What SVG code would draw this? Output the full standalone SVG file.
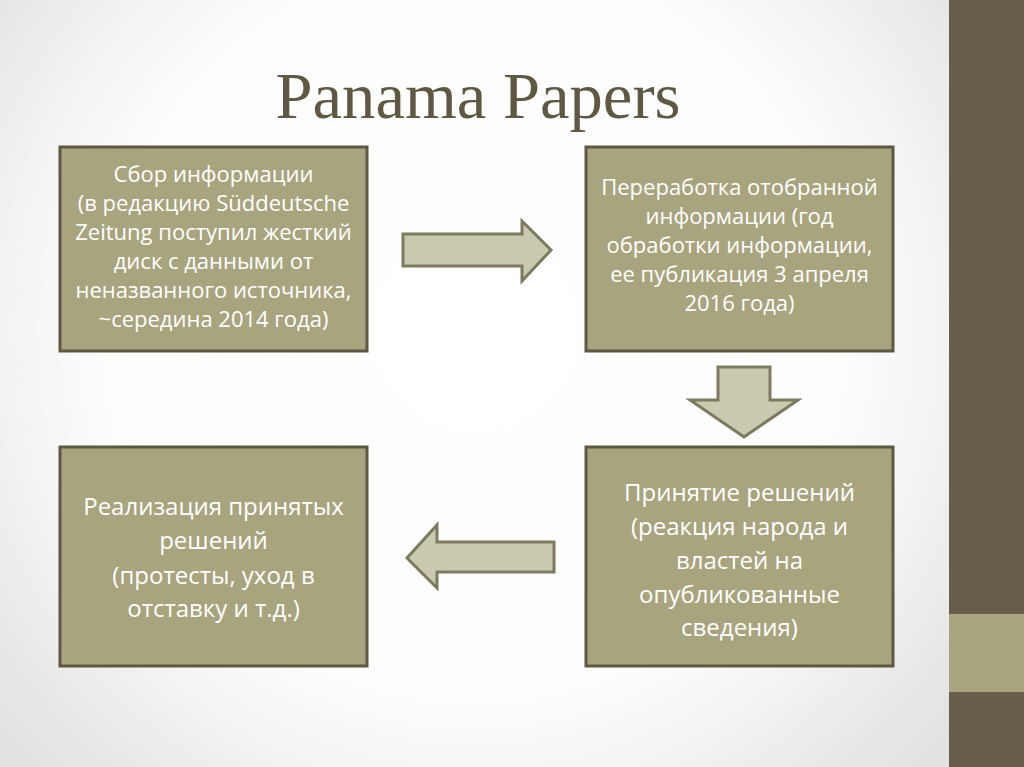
<svg xmlns="http://www.w3.org/2000/svg" width="1024" height="767" viewBox="0 0 1024 767">
<defs>
<radialGradient id="bg" cx="475" cy="330" r="620" gradientUnits="userSpaceOnUse">
<stop offset="0" stop-color="#ffffff"/>
<stop offset="0.6" stop-color="#fdfdfd"/>
<stop offset="1" stop-color="#e2e2e2"/>
</radialGradient>
<style>
.box{fill:#a8a47e;stroke:#5c5842;stroke-width:3}
.arr{fill:#cbc9ae;stroke:#7d7a5f;stroke-width:3;stroke-linejoin:miter}
.t{font-family:"Open Sans","Liberation Sans",sans-serif;fill:#ffffff;text-anchor:middle}
.s{font-size:22px}
.l{font-size:24px}
</style>
</defs>
<rect x="0" y="0" width="1024" height="767" fill="url(#bg)"/>
<rect x="949" y="0" width="75" height="767" fill="#665e48"/>
<rect x="949" y="614" width="75" height="78" fill="#a8a57e"/>
<text x="478" y="118" font-family="'Liberation Serif',serif" font-size="66" fill="#5f5843" text-anchor="middle" textLength="405" lengthAdjust="spacingAndGlyphs">Panama Papers</text>
<g id="node1">
<rect class="box" x="60" y="147" width="307" height="204"/>
<text class="t s"><tspan x="213.5" y="182">Сбор информации</tspan><tspan x="213.5" y="211">(в редакцию Süddeutsche</tspan><tspan x="213.5" y="240">Zeitung поступил жесткий</tspan><tspan x="213.5" y="269">диск с данными от</tspan><tspan x="213.5" y="298">неназванного источника,</tspan><tspan x="213.5" y="327">~середина 2014 года)</tspan></text>
</g>
<g id="node2">
<rect class="box" x="586" y="147" width="307" height="204"/>
<text class="t s"><tspan x="739.5" y="195">Переработка отобранной</tspan><tspan x="739.5" y="224">информации (год</tspan><tspan x="739.5" y="253">обработки информации,</tspan><tspan x="739.5" y="282">ее публикация 3 апреля</tspan><tspan x="739.5" y="311">2016 года)</tspan></text>
</g>
<g id="node3">
<rect class="box" x="60" y="447" width="307" height="219"/>
<text class="t l"><tspan x="213.5" y="515">Реализация принятых</tspan><tspan x="213.5" y="549">решений</tspan><tspan x="213.5" y="584">(протесты, уход в</tspan><tspan x="213.5" y="617">отставку и т.д.)</tspan></text>
</g>
<g id="node4">
<rect class="box" x="586" y="447" width="307" height="219"/>
<text class="t l"><tspan x="739.5" y="501">Принятие решений</tspan><tspan x="739.5" y="535">(реакция народа и</tspan><tspan x="739.5" y="569">властей на</tspan><tspan x="739.5" y="603">опубликованные</tspan><tspan x="739.5" y="636">сведения)</tspan></text>
</g>
<g id="connectors">
<polygon class="arr" points="403,234 522,234 522,221 551,250 522,281 522,266 403,266"/>
<polygon class="arr" points="718,367 770,367 770,400 798,400 744,437 690,400 718,400"/>
<polygon class="arr" points="554,542 437,542 437,525 407,558 437,588 437,572 554,572"/>
</g>
</svg>
